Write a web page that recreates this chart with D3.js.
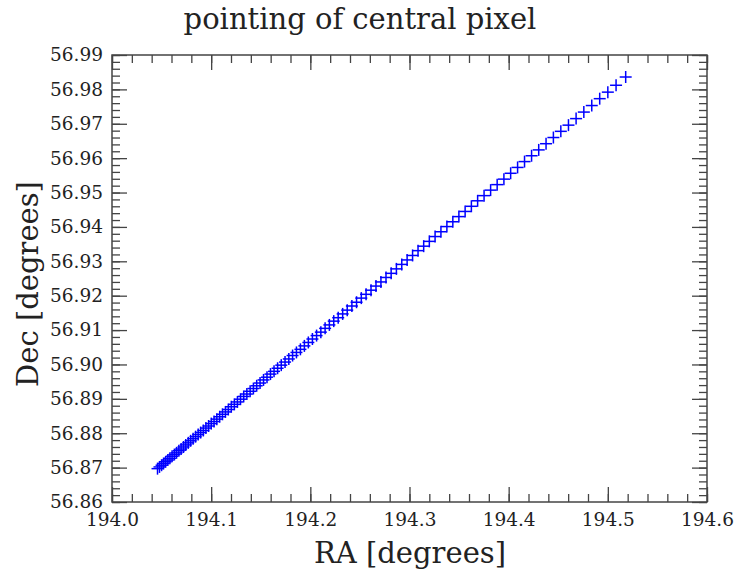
<!DOCTYPE html>
<html>
<head>
<meta charset="utf-8">
<title>pointing of central pixel</title>
<script src="https://d3js.org/d3.v7.min.js"></script>
<style>
body { margin: 0; background: white; }
svg { display: block; }
text { font-family: "DejaVu Serif", serif; fill: #222; }
.tick line { stroke: #444; stroke-width: 1.3px; }
.tick text { font-size: 18.5px; }
.frame { fill: none; stroke: #444; stroke-width: 1.5px; }
.mark { stroke: #0000ff; stroke-width: 1.5px; }
</style>
</head>
<body>
<svg width="736" height="572"></svg>
<script>
// pointing samples
var ra = [
  194.0459, 194.0479, 194.0500, 194.0520, 194.0541, 194.0563, 194.0584, 194.0606, 194.0629, 194.0651,
  194.0674, 194.0697, 194.0721, 194.0744, 194.0769, 194.0793, 194.0818, 194.0843, 194.0869, 194.0894,
  194.0921, 194.0947, 194.0974, 194.1001, 194.1029, 194.1057, 194.1086, 194.1114, 194.1144, 194.1173,
  194.1203, 194.1234, 194.1265, 194.1296, 194.1328, 194.1360, 194.1393, 194.1426, 194.1459, 194.1493,
  194.1528, 194.1563, 194.1598, 194.1634, 194.1670, 194.1707, 194.1745, 194.1783, 194.1821, 194.1860,
  194.1900, 194.1940, 194.1980, 194.2021, 194.2063, 194.2106, 194.2149, 194.2192, 194.2236, 194.2281,
  194.2326, 194.2372, 194.2419, 194.2466, 194.2514, 194.2562, 194.2612, 194.2662, 194.2712, 194.2763,
  194.2815, 194.2868, 194.2922, 194.2976, 194.3031, 194.3086, 194.3143, 194.3200, 194.3258, 194.3317,
  194.3377, 194.3437, 194.3498, 194.3561, 194.3624, 194.3687, 194.3752, 194.3818, 194.3884, 194.3952,
  194.4020, 194.4090, 194.4160, 194.4231, 194.4303, 194.4377, 194.4451, 194.4526, 194.4603, 194.4680,
  194.4758, 194.4838, 194.4918, 194.5000, 194.5083, 194.5180
];
var dec = [
  56.8697, 56.8702, 56.8707, 56.8712, 56.8717, 56.8722, 56.8727, 56.8733, 56.8738, 56.8743,
  56.8749, 56.8754, 56.8760, 56.8766, 56.8772, 56.8778, 56.8784, 56.8790, 56.8796, 56.8802,
  56.8808, 56.8815, 56.8821, 56.8828, 56.8834, 56.8841, 56.8848, 56.8855, 56.8862, 56.8869,
  56.8877, 56.8884, 56.8891, 56.8899, 56.8907, 56.8914, 56.8922, 56.8930, 56.8938, 56.8946,
  56.8955, 56.8963, 56.8972, 56.8980, 56.8989, 56.8998, 56.9007, 56.9016, 56.9026, 56.9035,
  56.9044, 56.9054, 56.9064, 56.9074, 56.9084, 56.9094, 56.9105, 56.9115, 56.9126, 56.9136,
  56.9147, 56.9158, 56.9170, 56.9181, 56.9193, 56.9204, 56.9216, 56.9228, 56.9240, 56.9253,
  56.9265, 56.9278, 56.9291, 56.9304, 56.9317, 56.9331, 56.9344, 56.9358, 56.9372, 56.9386,
  56.9401, 56.9415, 56.9430, 56.9445, 56.9460, 56.9476, 56.9491, 56.9507, 56.9523, 56.9539,
  56.9556, 56.9573, 56.9590, 56.9607, 56.9624, 56.9642, 56.9660, 56.9678, 56.9696, 56.9715,
  56.9734, 56.9753, 56.9773, 56.9792, 56.9812, 56.9836
];

var xTicks = [194.0, 194.1, 194.2, 194.3, 194.4, 194.5, 194.6];
var yTicks = [56.86, 56.87, 56.88, 56.89, 56.90, 56.91, 56.92, 56.93, 56.94, 56.95, 56.96, 56.97, 56.98, 56.99];

// plot box (note: "top" is taken by window.top)
var boxL = 112, boxR = 707, boxT = 55, boxB = 502;

var svg = d3.select("svg");
var x = d3.scaleLinear().domain([194.0, 194.6]).range([boxL, boxR]);
var y = d3.scaleLinear().domain([56.86, 56.99]).range([boxB, boxT]);

var xMinor = d3.range(0, 31).map(function(i){ return 194.0 + i*0.02; });
var yMinor = d3.range(0, 66).map(function(i){ return 56.86 + i*0.002; });

function drawAxis(axis, tx, ty) {
  var g = svg.append("g").attr("transform", "translate(" + tx + "," + ty + ")").call(axis);
  g.select(".domain").remove();
  return g;
}

// minor ticks on all four sides, pointing in
drawAxis(d3.axisBottom(x).tickValues(xMinor).tickSize(-8).tickFormat(""), 0, boxB);
drawAxis(d3.axisTop(x).tickValues(xMinor).tickSize(-8).tickFormat(""), 0, boxT);
drawAxis(d3.axisLeft(y).tickValues(yMinor).tickSize(-8).tickFormat(""), boxL, 0);
drawAxis(d3.axisRight(y).tickValues(yMinor).tickSize(-8).tickFormat(""), boxR, 0);

// major ticks with labels
drawAxis(d3.axisBottom(x).tickValues(xTicks).tickSize(-15).tickPadding(11).tickFormat(d3.format(".1f")), 0, boxB);
drawAxis(d3.axisTop(x).tickValues(xTicks).tickSize(-15).tickFormat(""), 0, boxT);
drawAxis(d3.axisLeft(y).tickValues(yTicks).tickSize(-15).tickPadding(9).tickFormat(d3.format(".2f")), boxL, 0);
drawAxis(d3.axisRight(y).tickValues(yTicks).tickSize(-15).tickFormat(""), boxR, 0);

svg.selectAll(".tick text").style("font-family", "DejaVu Serif").attr("fill", "#222");

svg.append("rect").attr("class", "frame")
  .attr("x", boxL).attr("y", boxT)
  .attr("width", boxR - boxL).attr("height", boxB - boxT);

// plus markers
var pts = ra.map(function(r, i){ return [r, dec[i]]; });
var m = svg.append("g");
m.selectAll("line.h").data(pts).enter().append("line").attr("class", "mark")
  .attr("x1", function(d){ return x(d[0]) - 6; })
  .attr("x2", function(d){ return x(d[0]) + 6; })
  .attr("y1", function(d){ return y(d[1]); })
  .attr("y2", function(d){ return y(d[1]); });
m.selectAll("line.v").data(pts).enter().append("line").attr("class", "mark")
  .attr("x1", function(d){ return x(d[0]); })
  .attr("x2", function(d){ return x(d[0]); })
  .attr("y1", function(d){ return y(d[1]) - 6; })
  .attr("y2", function(d){ return y(d[1]) + 6; });

// titles
svg.append("text").attr("x", 360).attr("y", 29)
  .attr("text-anchor", "middle").style("font-size", "29px")
  .text("pointing of central pixel");
svg.append("text").attr("x", 410).attr("y", 563)
  .attr("text-anchor", "middle").style("font-size", "29px")
  .text("RA [degrees]");
svg.append("text").attr("transform", "translate(38,284) rotate(-90)")
  .attr("text-anchor", "middle").style("font-size", "29px")
  .text("Dec [degrees]");
</script>
</body>
</html>
